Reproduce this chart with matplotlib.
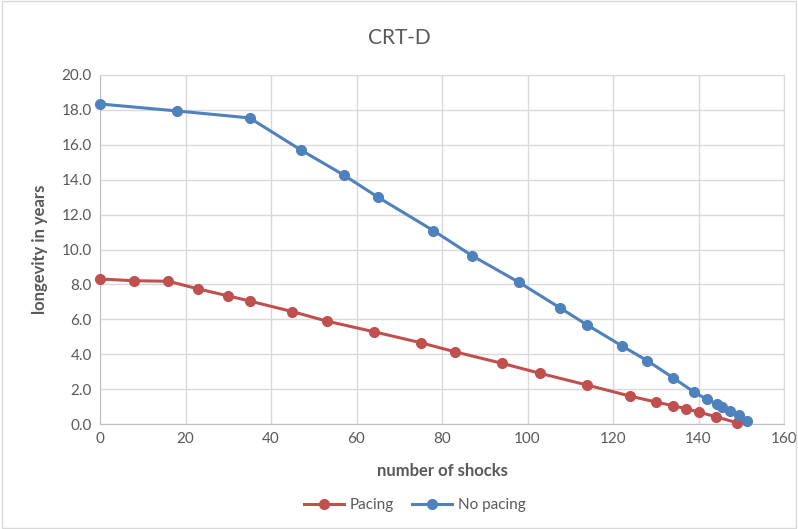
import numpy as np
import matplotlib.pyplot as plt

# data
pacing_x = [0, 8, 16, 23, 30, 35, 45, 53, 64, 75, 83, 94, 103, 114, 124, 130, 134, 137, 140, 144, 149]
pacing_y = [8.31, 8.21, 8.18, 7.74, 7.34, 7.05, 6.44, 5.9, 5.29, 4.66, 4.14, 3.48, 2.9, 2.23, 1.6, 1.26, 1.05, 0.88, 0.69, 0.42, 0.07]
nopacing_x = [0, 18, 35, 47, 57, 65, 78, 87, 98, 107.5, 114, 122, 128, 134, 139, 142, 144.4, 145.4, 147.3, 149.4, 151.4]
nopacing_y = [18.34, 17.94, 17.54, 15.7, 14.27, 13.0, 11.08, 9.65, 8.12, 6.67, 5.67, 4.49, 3.63, 2.66, 1.82, 1.41, 1.13, 0.99, 0.73, 0.5, 0.15]

red = "#C0504D"
blue = "#4F81BD"
grey_txt = "#595959"

plt.rcParams['font.family'] = ['Lato', 'DejaVu Sans']

fig = plt.figure(figsize=(7.98, 5.29), dpi=100)
ax = fig.add_axes([100/798, 1 - 424/529, 684/798, 349/529])

ax.plot(pacing_x, pacing_y, color=red, lw=2.2, marker='o', ms=7, label='Pacing', clip_on=False, zorder=3)
ax.plot(nopacing_x, nopacing_y, color=blue, lw=2.2, marker='o', ms=7, label='No pacing', clip_on=False, zorder=3)

ax.set_xlim(0, 160)
ax.set_ylim(0, 20)
ax.set_xticks(np.arange(0, 161, 20))
ax.set_yticks(np.arange(0, 20.1, 2))
ax.set_yticklabels([f"{v:.1f}" for v in np.arange(0, 20.1, 2)])
ax.grid(True, color="#D9D9D9", lw=1)
ax.set_axisbelow(True)
for s in ax.spines.values():
    s.set_color("#D9D9D9")
ax.spines['left'].set_color("#BFBFBF")
ax.spines['bottom'].set_color("#BFBFBF")
ax.tick_params(length=0, colors=grey_txt, labelsize=11, pad=6)

ax.set_xlabel("number of shocks", fontsize=12, fontweight='bold', color=grey_txt, labelpad=12)
ax.set_ylabel("longevity in years", fontsize=12, fontweight='bold', color=grey_txt, labelpad=10)
fig.text(0.5, 1 - 38/529, "CRT-D", ha='center', va='center', fontsize=15, color=grey_txt)

fig.legend(loc='center', bbox_to_anchor=(0.52, 1 - 505/529), ncol=2, frameon=False,
           fontsize=11, labelcolor=grey_txt, handlelength=2.6, handletextpad=0.4,
           columnspacing=1.2)

fig.patches.append(plt.Rectangle((0.002, 0.002), 0.996, 0.996, transform=fig.transFigure,
                                 fill=False, edgecolor="#D9D9D9", lw=1))

fig.savefig("out.png", dpi=100)
